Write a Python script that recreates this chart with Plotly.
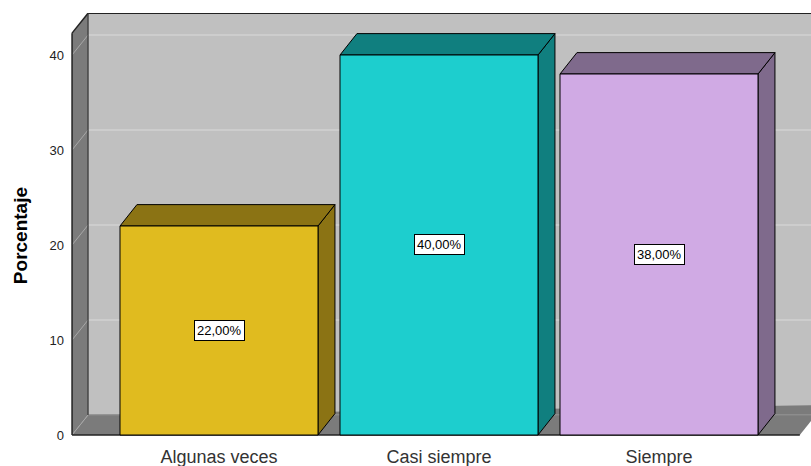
import plotly.graph_objects as go

# ---- data ----
categories = ["Algunas veces", "Casi siempre", "Siempre"]
percentages = [22.0, 40.0, 38.0]
labels = ["22,00%", "40,00%", "38,00%"]
y_ticks = [0, 10, 20, 30, 40]

front_colors = ["#E0BB1F", "#1DCECE", "#D0AAE4"]
dark_colors = ["#8B7314", "#107F7F", "#7F6A8C"]

# ---- geometry in axis units ----
BAR_W = 0.9
X_LEFT = -0.668        # front left edge of the box
X_FLOOR_END = 2.64
X_MIN, X_MAX = -0.6864, 2.6909
Y_MIN, Y_MAX = -0.316, 44.42
WALL_TOP = 42.3
DX, DY = 0.0727, 2.1         # wall depth
BDX, BDY = 0.077, 2.25       # bar depth

WALL_BACK = "#C0C0C0"
WALL_SIDE = "#7B7B7B"
GRID = "#D2D2D2"

fig = go.Figure()


def poly(xs, ys, fill, line_color="black", width=1):
    fig.add_trace(go.Scatter(x=xs + [xs[0]], y=ys + [ys[0]], mode="lines", fill="toself",
                             fillcolor=fill, line=dict(color=line_color, width=width),
                             hoverinfo="skip", showlegend=False))


def line(xs, ys, color, width=1):
    fig.add_trace(go.Scatter(x=xs, y=ys, mode="lines", line=dict(color=color, width=width),
                             hoverinfo="skip", showlegend=False))


# back wall
poly([X_LEFT + DX, X_MAX + 0.1, X_MAX + 0.1, X_LEFT + DX],
     [DY, DY, WALL_TOP + DY, WALL_TOP + DY], WALL_BACK, line_color=WALL_BACK, width=0)
# left wall
poly([X_LEFT, X_LEFT + DX, X_LEFT + DX, X_LEFT],
     [0, DY, WALL_TOP + DY, WALL_TOP], WALL_SIDE, line_color=WALL_SIDE, width=0)
# floor
poly([X_LEFT, X_FLOOR_END, X_FLOOR_END + DX * 1.5, X_LEFT + DX],
     [0, 0, DY * 1.5, DY], WALL_SIDE, line_color=WALL_SIDE, width=0)

# gridlines on back wall and left wall
for v in y_ticks:
    line([X_LEFT + DX, X_MAX + 0.1], [v + DY, v + DY], GRID, 1.5)
    line([X_LEFT, X_LEFT + DX], [v, v + DY], "#A8A8A8", 1)

# frame edges
line([X_LEFT + DX, X_MAX + 0.1], [WALL_TOP + DY, WALL_TOP + DY], "#222222", 1.5)
line([X_LEFT, X_LEFT + DX], [WALL_TOP, WALL_TOP + DY], "#222222", 1.5)
line([X_LEFT + DX, X_LEFT + DX], [DY, WALL_TOP + DY], "#333333", 1.2)
line([X_LEFT + DX, X_FLOOR_END + DX], [DY, DY], "#555555", 1)
line([X_LEFT, X_LEFT], [0, WALL_TOP], "#222222", 1.5)
line([X_LEFT, X_FLOOR_END], [0, 0], "#222222", 1.5)

# bars
for i, (v, fc, dc) in enumerate(zip(percentages, front_colors, dark_colors)):
    x0, x1 = i - BAR_W / 2, i + BAR_W / 2
    # side face
    poly([x1, x1 + BDX, x1 + BDX, x1], [0, BDY, v + BDY, v], dc)
    # top face
    poly([x0, x1, x1 + BDX, x0 + BDX], [v, v, v + BDY, v + BDY], dc)
    # front face
    poly([x0, x1, x1, x0], [0, 0, v, v], fc)

# value labels
for i, (v, t) in enumerate(zip(percentages, labels)):
    fig.add_annotation(x=i, y=v / 2, text=t, showarrow=False,
                       font=dict(family="Arial", size=13, color="black"),
                       bgcolor="white", bordercolor="black", borderwidth=1, borderpad=2)

# y-axis title
fig.add_annotation(xref="paper", yref="paper", x=-0.0646, y=0.475, text="<b>Porcentaje</b>",
                   textangle=-90, showarrow=False, xanchor="center", yanchor="middle",
                   font=dict(family="Arial", size=19, color="black"))

fig.update_layout(
    width=811, height=466,
    margin=dict(l=68, r=0, t=13, b=28),
    paper_bgcolor="white", plot_bgcolor="white",
    showlegend=False, hovermode=False,
    xaxis=dict(range=[X_MIN, X_MAX], tickvals=list(range(len(categories))), ticktext=categories,
               showgrid=False, zeroline=False, showline=False,
               tickfont=dict(family="Arial", size=18, color="#333333"),
               ticklabelstandoff=6),
    yaxis=dict(range=[Y_MIN, Y_MAX], tickvals=y_ticks, ticktext=[str(t) for t in y_ticks],
               showgrid=False, zeroline=False, showline=False,
               tickfont=dict(family="Arial", size=13, color="#222222"),
               ticklabelstandoff=3),
)

fig.write_html("out.html", config={"displayModeBar": False, "staticPlot": True},
               post_script="document.body.style.margin='0';document.body.style.overflow='hidden';")
